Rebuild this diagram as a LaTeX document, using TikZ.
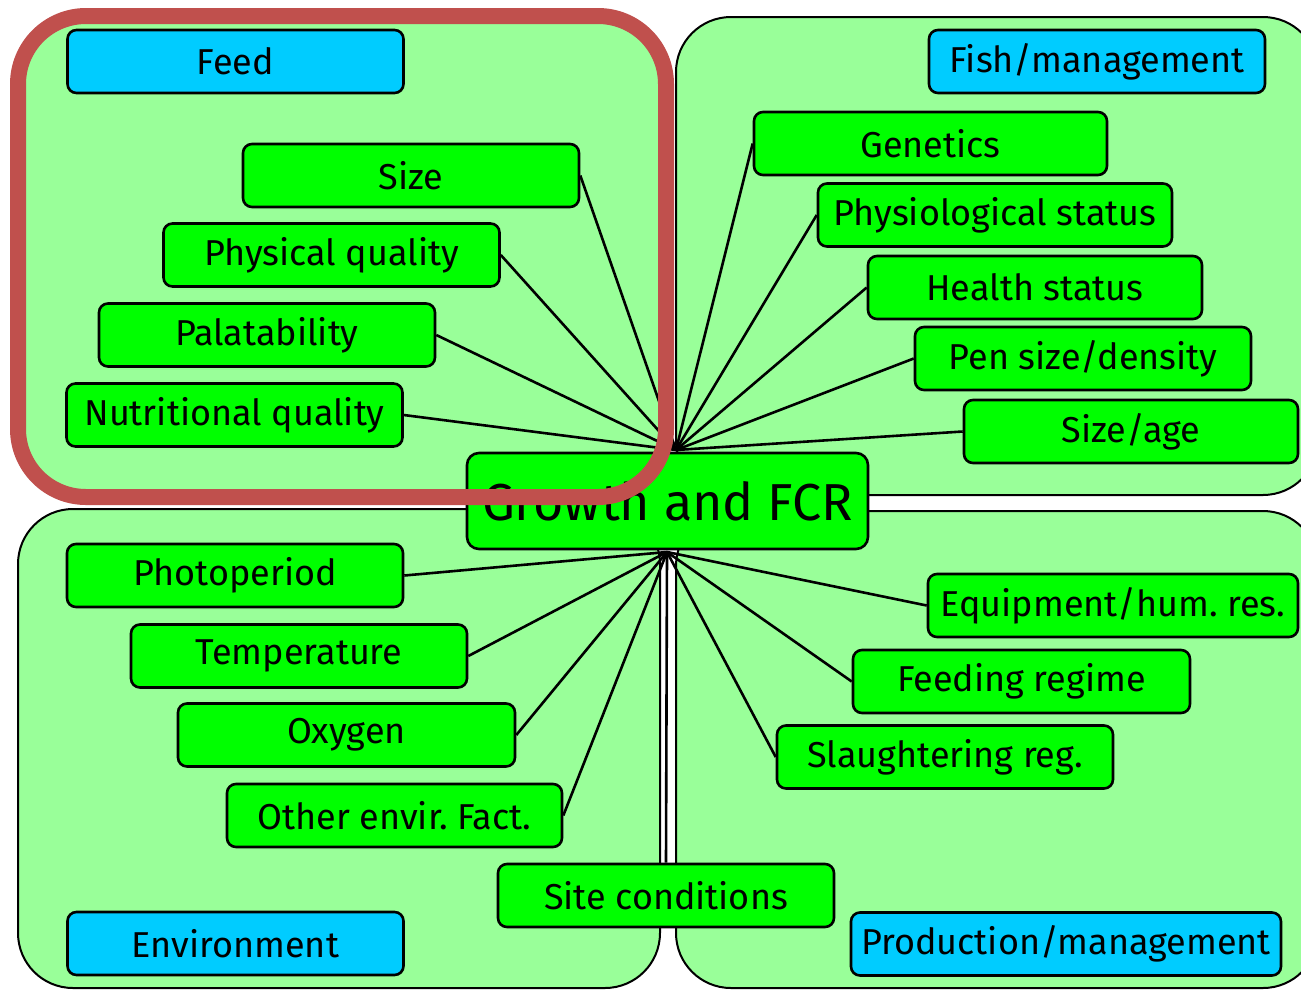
\documentclass[tikz,border=0pt]{standalone}
\usepackage{fontspec}
\setmainfont{Fira Sans}
\definecolor{panelgreen}{HTML}{99FF99}
\definecolor{boxgreen}{HTML}{00FF00}
\definecolor{boxblue}{HTML}{00CCFF}
\definecolor{ringred}{HTML}{C0504D}
\pgfdeclarelayer{panels}
\pgfdeclarelayer{conns}
\pgfdeclarelayer{top}
\pgfsetlayers{panels,conns,main,top}
\tikzset{
  panel/.style={draw=black, line width=2pt, fill=panelgreen, rounded corners=55pt},
  gbox/.style={draw=black, line width=2.6pt, fill=boxgreen, rounded corners=9pt,
    minimum width=336pt, minimum height=63pt, inner sep=0pt,
    font=\fontsize{36}{42}\selectfont},
  bbox/.style={gbox, fill=boxblue},
  conn/.style={draw=black, line width=2.6pt},
  hubbox/.style={draw=black, line width=2.6pt, fill=boxgreen, rounded corners=12pt,
    minimum width=401pt, minimum height=96pt, inner sep=0pt,
    font=\fontsize{52}{58}\selectfont},
  ring/.style={draw=ringred, line width=16pt, rounded corners=68pt}
}
\begin{document}
\begin{tikzpicture}[x=1pt,y=-1pt]
\useasboundingbox (0,0) rectangle (1301,989);
\begin{pgfonlayer}{panels}
\clip (0,0) rectangle (1301,989);
\fill[white] (0,0) rectangle (1301,989);
\draw[panel] (18,16) rectangle (666,497);
\draw[panel] (676,17) rectangle (1318,495);
\draw[panel] (18,509) rectangle (660,988);
\draw[panel] (676,511) rectangle (1318,988);
\end{pgfonlayer}
% hubs
\coordinate (htop) at (676,450);
\coordinate (hbot) at (667,552);
% boxes
\node[bbox] (feed) at (235.5,61.5) {Feed};
\node[bbox] (fish) at (1097,61.5) {Fish/management};
\node[bbox] (env) at (235.5,943.5) {Environment};
\node[bbox, minimum width=430pt] (prod) at (1066,944) {Production/management};

\node[gbox] (size) at (411,175.5) {Size};
\node[gbox] (phys) at (331.5,255) {Physical quality};
\node[gbox] (pala) at (267,335) {Palatability};
\node[gbox] (nutr) at (234.5,415) {Nutritional quality};

\node[gbox, minimum width=353pt] (gen) at (930.5,143.5) {Genetics};
\node[gbox, minimum width=354pt] (physio) at (995,215) {Physiological status};
\node[gbox, minimum width=334pt] (health) at (1035,287.5) {Health status};
\node[gbox] (pen) at (1083,358.5) {Pen size/density};
\node[gbox, minimum width=334pt] (sizeage) at (1131,431.5) {Size/age};

\node[gbox] (photo) at (235,575.5) {Photoperiod};
\node[gbox] (temp) at (299,656) {Temperature};
\node[gbox, minimum width=337pt] (oxy) at (346.5,735) {Oxygen};
\node[gbox, minimum width=335pt] (other) at (394.5,815.5) {Other envir.\ Fact.};

\node[gbox, minimum width=370pt] (equip) at (1113,605.5) {Equipment/hum.\ res.};
\node[gbox, minimum width=337pt] (feedreg) at (1021.5,681.5) {Feeding regime};
\node[gbox] (slaught) at (945,757) {Slaughtering reg.};
\node[gbox] (site) at (666,895.5) {Site conditions};

\node[hubbox] (hub) at (667.5,501) {Growth and FCR};

\begin{pgfonlayer}{conns}
\foreach \n in {size,phys,pala,nutr}{\draw[conn] (\n.east) -- (htop);}
\foreach \n in {gen,physio,health,pen,sizeage}{\draw[conn] (\n.west) -- (htop);}
\foreach \n in {photo,temp,oxy,other}{\draw[conn] (\n.east) -- (hbot);}
\foreach \n in {equip,feedreg,slaught}{\draw[conn] (\n.west) -- (hbot);}
\draw[conn] (site.north) -- (hbot);
\end{pgfonlayer}

\begin{pgfonlayer}{top}
\draw[ring] (18,16) rectangle (666,497);
\end{pgfonlayer}
\end{tikzpicture}
\end{document}
